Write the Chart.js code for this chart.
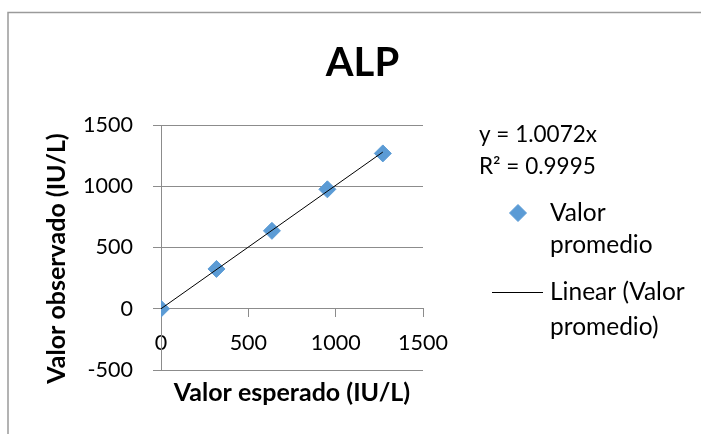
<!DOCTYPE html>
<html>
<head>
<meta charset="utf-8">
<title>ALP</title>
<script src="https://cdn.jsdelivr.net/npm/chart.js@4/dist/chart.umd.min.js"></script>
<style>
  html, body { margin: 0; padding: 0; background: #ffffff; }
  canvas { display: block; }
</style>
</head>
<body>
<canvas id="chart" width="701" height="434"></canvas>
<script>
// Expected vs. observed ALP activity (IU/L)
const expectedValues = [0, 317.5, 635, 952.5, 1270];
const observedValues = [0, 325, 636, 975, 1268];

// Linear trend through the origin
const trendSlope = 1.0072;
const trendR2 = 0.9995;

// Axis ticks
const xTicks = [0, 500, 1000, 1500];
const yTicks = [-500, 0, 500, 1000, 1500];

const chartTitle = 'ALP';
const xTitle = 'Valor esperado (IU/L)';
const yTitle = 'Valor observado (IU/L)';
const seriesLabel = 'Valor promedio';
const trendLabel = 'Linear (Valor promedio)';
const seriesLegendLines = ['Valor', 'promedio'];
const trendLegendLines = ['Linear (Valor', 'promedio)'];

const FONT = 'Lato, "Open Sans", sans-serif';
const GRID = '#8c8c8c';
const MARKER = '#5b9bd5';

const points = expectedValues.map((x, i) => ({ x: x, y: observedValues[i] }));
const xEnd = Math.max(...expectedValues);
const trendPoints = [
  { x: 0, y: 0 },
  { x: xEnd, y: trendSlope * xEnd }
];

// Frame, axis titles, trendline equation and legend
const decorations = {
  id: 'decorations',
  beforeDraw(chart) {
    const ctx = chart.ctx;
    ctx.save();
    ctx.strokeStyle = '#9a9a9a';
    ctx.lineWidth = 1.5;
    ctx.strokeRect(8, 12.5, 800, 600);
    ctx.restore();
  },
  afterDraw(chart) {
    const ctx = chart.ctx;
    const a = chart.chartArea;
    ctx.save();
    ctx.fillStyle = '#000000';
    ctx.textBaseline = 'middle';

    // axis titles
    ctx.font = 'bold 25px ' + FONT;
    ctx.textAlign = 'center';
    ctx.fillText(xTitle, (a.left + a.right) / 2, a.bottom + 23);
    ctx.save();
    ctx.translate(57, (a.top + a.bottom) / 2 + 11);
    ctx.rotate(-Math.PI / 2);
    ctx.fillText(yTitle, 0, 0);
    ctx.restore();

    // trendline equation
    const lx = a.right;
    ctx.font = '22.5px ' + FONT;
    ctx.textAlign = 'left';
    ctx.fillText('y = ' + trendSlope.toFixed(4) + 'x', lx + 56, 135);
    ctx.fillText('R\u00B2 = ' + trendR2.toFixed(4), lx + 56, 167);

    // legend: series marker
    const ds = chart.data.datasets[1];
    ctx.fillStyle = ds.backgroundColor;
    ctx.strokeStyle = ds.borderColor;
    ctx.lineWidth = ds.borderWidth;
    Chart.helpers.drawPoint(ctx, {
      pointStyle: ds.pointStyle,
      radius: ds.pointRadius,
      rotation: 0,
      borderWidth: ds.borderWidth
    }, lx + 95, 213);

    // legend: labels
    ctx.font = '24.5px ' + FONT;
    ctx.fillStyle = '#000000';
    ctx.fillText(seriesLegendLines[0], lx + 127, 213);
    ctx.fillText(seriesLegendLines[1], lx + 127, 245);

    // legend: trendline
    const tds = chart.data.datasets[0];
    ctx.strokeStyle = tds.borderColor;
    ctx.lineWidth = tds.borderWidth;
    ctx.beginPath();
    ctx.moveTo(lx + 69, 292.5);
    ctx.lineTo(lx + 120, 292.5);
    ctx.stroke();
    ctx.fillText(trendLegendLines[0], lx + 127, 292);
    ctx.fillText(trendLegendLines[1], lx + 127, 327);
    ctx.restore();
  }
};

const plainNumber = v => String(v);

new Chart(document.getElementById('chart'), {
  type: 'scatter',
  data: {
    datasets: [
      {
        type: 'line',
        label: trendLabel,
        data: trendPoints,
        borderColor: '#000000',
        borderWidth: 1,
        pointRadius: 0,
        fill: false,
        tension: 0,
        order: 0
      },
      {
        label: seriesLabel,
        data: points,
        pointStyle: 'rectRot',
        pointRadius: 8.5,
        backgroundColor: MARKER,
        borderColor: MARKER,
        borderWidth: 1,
        order: 1
      }
    ]
  },
  options: {
    responsive: false,
    animation: false,
    devicePixelRatio: 1,
    layout: { padding: { left: 24, right: 0, top: 0, bottom: 64 } },
    plugins: {
      legend: { display: false },
      tooltip: { enabled: false },
      title: {
        display: true,
        text: chartTitle,
        color: '#000000',
        font: { family: FONT, size: 40, weight: 'bold' },
        padding: { top: 39, bottom: 38 }
      }
    },
    scales: {
      x: {
        type: 'linear',
        position: { y: 0 },
        min: xTicks[0],
        max: xTicks[xTicks.length - 1],
        afterBuildTicks(scale) { scale.ticks = xTicks.map(v => ({ value: v })); },
        ticks: { color: '#000000', font: { family: FONT, size: 21.5 }, padding: 13, callback: plainNumber },
        grid: { drawOnChartArea: false, drawTicks: true, tickLength: 8, color: GRID },
        border: { color: GRID, width: 1 }
      },
      y: {
        type: 'linear',
        position: 'left',
        min: yTicks[0],
        max: yTicks[yTicks.length - 1],
        afterBuildTicks(scale) { scale.ticks = yTicks.map(v => ({ value: v })); },
        afterFit(scale) { scale.width = 137; },
        ticks: { color: '#000000', font: { family: FONT, size: 21.5 }, padding: 20, callback: plainNumber },
        grid: { color: GRID, tickLength: 8 },
        border: { color: GRID, width: 1 }
      },
      // empty band on the right that holds the equation and legend
      side: {
        type: 'linear',
        axis: 'y',
        position: 'right',
        ticks: { display: false },
        grid: { display: false },
        border: { display: false },
        afterFit(scale) { scale.width = 278; }
      }
    }
  },
  plugins: [decorations]
});
</script>
</body>
</html>
